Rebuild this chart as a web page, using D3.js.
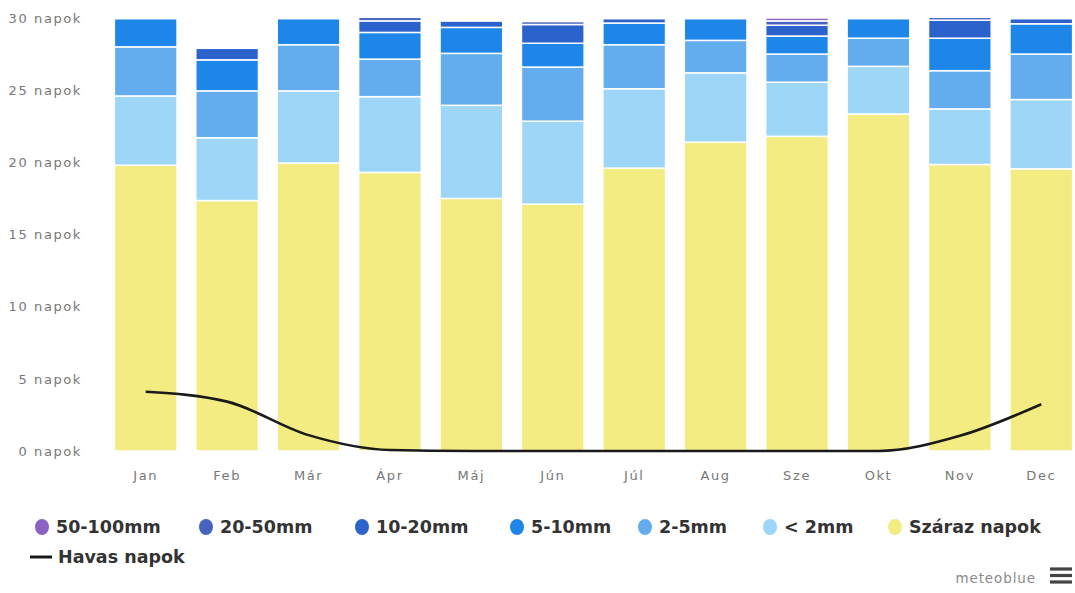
<!DOCTYPE html>
<html>
<head>
<meta charset="utf-8">
<script src="https://cdn.jsdelivr.net/npm/d3@7"></script>
<style>
  html, body { margin: 0; padding: 0; background: #fff; }
  svg { display: block; }
</style>
</head>
<body>
<svg id="chart" width="1075" height="593"></svg>
<script>
// ---- DATA ----
const months = ["Jan","Feb","Már","Ápr","Máj","Jún","Júl","Aug","Sze","Okt","Nov","Dec"];
const dry     = [19.8, 17.35, 19.95, 19.3, 17.5, 17.1, 19.6, 21.4, 21.8, 23.35, 19.85, 19.55];
const lt2     = [4.8, 4.35, 5.0, 5.25, 6.45, 5.75, 5.5, 4.8, 3.75, 3.3, 3.85, 4.8];
const mm2_5   = [3.4, 3.25, 3.2, 2.6, 3.6, 3.75, 3.05, 2.25, 1.95, 1.95, 2.65, 3.15];
const mm5_10  = [1.95, 2.15, 1.8, 1.85, 1.8, 1.65, 1.5, 1.5, 1.25, 1.35, 2.25, 2.1];
const mm10_20 = [0, 0.8, 0, 0.8, 0.45, 1.3, 0.3, 0, 0.75, 0, 1.25, 0.35];
const mm20_50 = [0, 0, 0, 0.25, 0.1, 0.2, 0, 0, 0.3, 0, 0.2, 0];
const mm50_100= [0, 0, 0, 0.1, 0, 0, 0, 0, 0.2, 0, 0.05, 0];
const snow    = [4.1, 3.42, 1.1, 0.07, 0, 0, 0, 0, 0, 0, 1.05, 3.24];
const yTicks  = [0, 5, 10, 15, 20, 25, 30];
const yUnit   = "napok";
const seriesNames = ["Száraz napok", "< 2mm", "2-5mm", "5-10mm", "10-20mm", "20-50mm", "50-100mm"];
const legendOrder = ["50-100mm", "20-50mm", "10-20mm", "5-10mm", "2-5mm", "< 2mm", "Száraz napok"];
const snowName = "Havas napok";

// ---- STYLE ----
const colors = {
  "Száraz napok": "#f3ec82",
  "< 2mm": "#9dd6f6",
  "2-5mm": "#63adef",
  "5-10mm": "#1d86e8",
  "10-20mm": "#2b62cc",
  "20-50mm": "#4563bf",
  "50-100mm": "#8a62c4"
};
const legendX = [42, 206, 362, 517, 645, 770, 895];

const svg = d3.select("#chart");
const plot = { left: 105, right: 1082, top: 18, bottom: 451 };

const x = d3.scaleBand().domain(months).range([plot.left, plot.right])
  .paddingInner(0.23).paddingOuter(0.115);
const y = d3.scaleLinear().domain([0, 30]).range([plot.bottom, plot.top]);

// stacked data
const seriesArrays = [dry, lt2, mm2_5, mm5_10, mm10_20, mm20_50, mm50_100];
const table = months.map((m, i) => {
  const row = { month: m };
  seriesNames.forEach((s, k) => row[s] = seriesArrays[k][i]);
  return row;
});
const stack = d3.stack().keys(seriesNames)(table);

svg.append("g").selectAll("g").data(stack).join("g")
  .attr("fill", d => colors[d.key])
  .selectAll("rect").data(d => d).join("rect")
  .attr("x", d => x(d.data.month))
  .attr("width", x.bandwidth())
  .attr("y", d => y(d[1]))
  .attr("height", d => Math.max(0, y(d[0]) - y(d[1])))
  .attr("stroke", "#fff")
  .attr("stroke-width", 1.5);

// Y axis labels
const yAxis = d3.axisLeft(y).tickValues(yTicks).tickSize(0).tickPadding(0)
  .tickFormat(d => d + " " + yUnit);
const gy = svg.append("g").attr("transform", `translate(82,0)`).call(yAxis);
gy.select(".domain").remove();
gy.selectAll("text")
  .attr("font-family", "DejaVu Sans")
  .attr("font-size", 13)
  .attr("letter-spacing", "1.6px")
  .attr("fill", "#777");

// X axis labels
const xAxis = d3.axisBottom(x).tickSize(0).tickPadding(0);
const gx = svg.append("g").attr("transform", `translate(0,${plot.bottom + 20})`).call(xAxis);
gx.select(".domain").remove();
gx.selectAll("text")
  .attr("font-family", "DejaVu Sans")
  .attr("font-size", 13)
  .attr("letter-spacing", "1.6px")
  .attr("fill", "#777");

// Snow line
const line = d3.line()
  .x((d, i) => x(months[i]) + x.bandwidth() / 2)
  .y(d => y(d))
  .curve(d3.curveMonotoneX);
svg.append("path").datum(snow)
  .attr("d", line)
  .attr("fill", "none")
  .attr("stroke", "#1a1a1a")
  .attr("stroke-width", 2.6)
  .attr("stroke-linejoin", "round");

// Legend
const lg = svg.append("g");
legendOrder.forEach((name, i) => {
  const cx = legendX[i];
  lg.append("ellipse").attr("cx", cx).attr("cy", 527).attr("rx", 7).attr("ry", 8)
    .attr("fill", colors[name]);
  lg.append("text").attr("x", cx + 14).attr("y", 527).attr("dy", "0.36em")
    .attr("font-family", "DejaVu Sans").attr("font-weight", "bold")
    .attr("font-size", 17.5).attr("fill", "#333")
    .text(name);
});
lg.append("line").attr("x1", 30).attr("x2", 52).attr("y1", 557).attr("y2", 557)
  .attr("stroke", "#1a1a1a").attr("stroke-width", 3);
lg.append("text").attr("x", 58).attr("y", 557).attr("dy", "0.36em")
  .attr("font-family", "DejaVu Sans").attr("font-weight", "bold")
  .attr("font-size", 17.5).attr("fill", "#333")
  .text(snowName);

// Credits
svg.append("text").attr("x", 1036).attr("y", 578).attr("dy", "0.35em")
  .attr("text-anchor", "end")
  .attr("font-family", "DejaVu Sans").attr("font-size", 13.5)
  .attr("letter-spacing", "0.9px")
  .attr("fill", "#8a8a8a").text("meteoblue");
[569, 575.5, 582].forEach(yy => {
  svg.append("rect").attr("x", 1050).attr("y", yy - 1.6).attr("width", 22).attr("height", 3.2)
    .attr("fill", "#444");
});
</script>
</body>
</html>
